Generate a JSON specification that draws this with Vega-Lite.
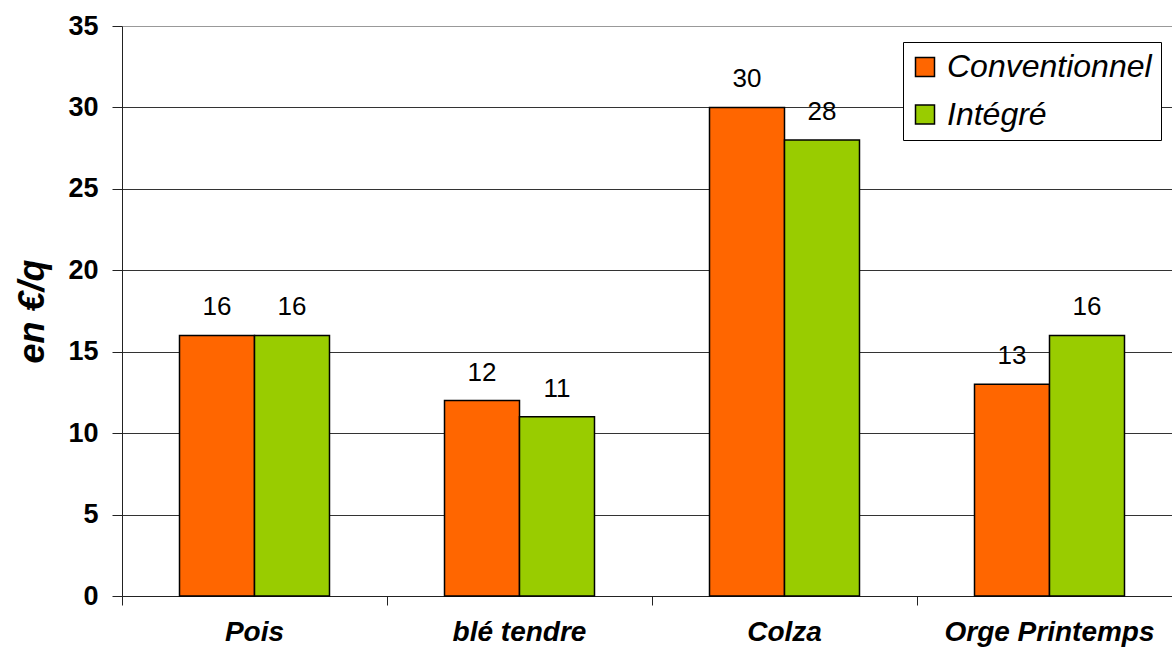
{
  "$schema": "https://vega.github.io/schema/vega-lite/v6.json",
  "autosize": "none",
  "padding": {"left": 122, "top": 26, "right": 0, "bottom": 55},
  "width": 1050,
  "height": 570,
  "background": "white",
  "config": {
    "view": {"stroke": null},
    "font": "Liberation Sans"
  },
  "data": {
    "values": [
      {"culture": "Pois", "systeme": "Conventionnel", "valeur": 16},
      {"culture": "Pois", "systeme": "Intégré", "valeur": 16},
      {"culture": "blé tendre", "systeme": "Conventionnel", "valeur": 12},
      {"culture": "blé tendre", "systeme": "Intégré", "valeur": 11},
      {"culture": "Colza", "systeme": "Conventionnel", "valeur": 30},
      {"culture": "Colza", "systeme": "Intégré", "valeur": 28},
      {"culture": "Orge Printemps", "systeme": "Conventionnel", "valeur": 13},
      {"culture": "Orge Printemps", "systeme": "Intégré", "valeur": 16}
    ]
  },
  "encoding": {
    "x": {
      "field": "culture",
      "type": "nominal",
      "sort": ["Pois", "blé tendre", "Colza", "Orge Printemps"],
      "scale": {"range": [0, 1060], "paddingInner": 0.434, "paddingOuter": 0.217},
      "axis": {
        "title": null,
        "labelAngle": 0,
        "labelFont": "Liberation Sans",
        "labelFontSize": 28,
        "labelFontWeight": "bold",
        "labelFontStyle": "italic",
        "labelColor": "black",
        "labelPadding": 13,
        "labelLimit": 500,
        "bandPosition": -0.383,
        "tickSize": 9,
        "tickColor": "#222",
        "domainColor": "#222",
        "grid": false
      }
    },
    "xOffset": {
      "field": "systeme",
      "type": "nominal",
      "sort": ["Conventionnel", "Intégré"],
      "scale": {"paddingInner": 0, "paddingOuter": 0}
    },
    "y": {
      "field": "valeur",
      "type": "quantitative",
      "scale": {"domain": [0, 35], "nice": false},
      "axis": {
        "title": "en €/q",
        "titleFont": "Liberation Sans",
        "titleFontSize": 36,
        "titleFontWeight": "bold",
        "titleFontStyle": "italic",
        "titleColor": "black",
        "titlePadding": 16,
        "values": [0, 5, 10, 15, 20, 25, 30, 35],
        "labelFont": "Liberation Sans",
        "labelFontSize": 27,
        "labelFontWeight": "bold",
        "labelColor": "black",
        "labelPadding": 14,
        "tickSize": 10,
        "tickColor": "#222",
        "domainColor": "#222",
        "grid": true,
        "gridColor": {"condition": {"test": "datum.value == 35", "value": "#999999"}, "value": "#333333"},
        "gridWidth": 1
      }
    }
  },
  "layer": [
    {
      "mark": {"type": "bar", "stroke": "black", "strokeWidth": 1.5},
      "encoding": {
        "color": {
          "field": "systeme",
          "type": "nominal",
          "sort": ["Conventionnel", "Intégré"],
          "scale": {"domain": ["Conventionnel", "Intégré"], "range": ["#FF6600", "#99CC00"]},
          "legend": {
            "title": null,
            "orient": "none",
            "legendX": 781,
            "legendY": 16,
            "symbolType": "square",
            "symbolSize": 361,
            "symbolStrokeColor": "black",
            "symbolStrokeWidth": 1.5,
            "symbolOpacity": 1,
            "symbolOffset": -3,
            "labelFont": "Liberation Sans",
            "labelFontSize": 32,
            "labelFontStyle": "italic",
            "labelColor": "black",
            "labelOffset": 6,
            "labelLimit": 400,
            "rowPadding": 15.5,
            "padding": 9,
            "strokeColor": "black",
            "fillColor": "white"
          }
        }
      }
    },
    {
      "mark": {"type": "text", "baseline": "alphabetic", "dy": -20, "fontSize": 26, "font": "Liberation Sans", "color": "black"},
      "encoding": {
        "text": {"field": "valeur", "type": "quantitative"}
      }
    }
  ]
}
